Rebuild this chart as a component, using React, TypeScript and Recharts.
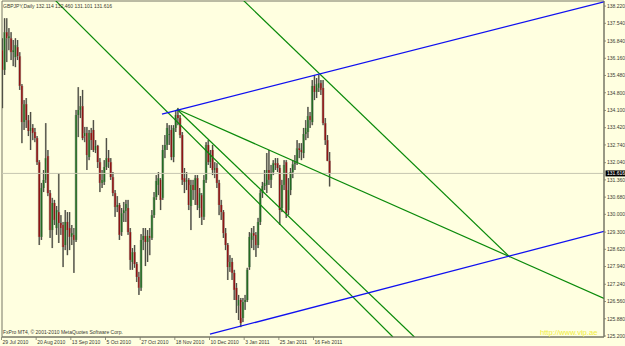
import { ComposedChart, Bar, XAxis, YAxis, ReferenceLine, ReferenceArea } from "recharts";

// GBPJPY daily candles (index 0 = 29 Jul 2010)
const OPEN = [
  136.48, 135.70, 137.19, 136.95, 136.95, 136.40, 136.20, 136.60, 136.24, 135.07,
  133.64, 134.35, 133.72, 133.29, 133.41, 133.25, 133.01, 132.06, 129.11, 131.04,
  131.36, 132.30, 130.84, 129.38, 130.45, 129.46, 130.09, 129.66, 129.58, 128.79,
  129.70, 129.46, 129.11, 129.19, 128.99, 133.92, 134.12, 134.27, 133.09, 133.21,
  132.26, 133.21, 133.33, 132.54, 132.70, 132.06, 131.24, 131.28, 131.87, 132.22,
  132.06, 131.47, 130.84, 130.29, 130.37, 129.30, 130.05, 130.13, 130.25, 129.30,
  128.12, 128.51, 128.04, 127.53, 127.10, 128.99, 129.15, 128.91, 129.15, 129.07,
  129.97, 130.68, 131.16, 131.36, 130.65, 132.54, 132.74, 133.13, 133.33, 132.26,
  133.41, 133.92, 133.80, 133.13, 131.43, 131.28, 131.36, 130.33, 131.16, 130.96,
  131.43, 130.25, 130.76, 129.90, 131.36, 132.74, 132.06, 132.54, 131.75, 131.83,
  131.24, 130.37, 130.09, 129.26, 128.79, 127.92, 128.12, 127.69, 127.10, 126.39,
  126.62, 125.91, 126.54, 126.62, 127.92, 128.99, 129.26, 129.19, 128.79, 129.70,
  130.84, 131.12, 131.16, 131.75, 131.36, 131.67, 132.02, 132.02, 131.83, 130.25,
  131.16, 132.06, 130.17, 130.96, 131.67, 131.98, 132.06, 132.61, 132.54, 132.42,
  133.17, 133.25, 133.88, 133.64, 135.07, 134.83, 134.99, 135.18, 134.99, 133.60,
  132.93, 132.114,
];
const HIGH = [
  136.95, 137.74, 137.74, 137.35, 137.19, 136.88, 136.95, 136.88, 136.40, 135.14,
  134.51, 134.59, 133.92, 134.04, 133.56, 133.41, 133.09, 132.14, 131.24, 131.75,
  133.60, 132.54, 130.96, 130.65, 130.57, 130.33, 131.63, 129.97, 129.70, 130.17,
  130.09, 130.09, 129.58, 129.46, 134.12, 135.02, 134.67, 134.91, 133.45, 133.45,
  133.33, 133.41, 133.72, 132.93, 132.74, 132.22, 131.75, 132.14, 133.01, 132.54,
  132.22, 131.67, 130.96, 130.72, 130.45, 130.25, 130.49, 130.57, 130.57, 129.46,
  128.67, 128.79, 128.12, 127.73, 129.22, 129.46, 129.46, 129.38, 129.46, 130.17,
  130.88, 131.55, 131.67, 131.43, 132.74, 133.13, 133.60, 133.52, 133.52, 133.52,
  134.12, 134.20, 133.92, 133.25, 131.83, 131.67, 131.43, 131.36, 131.36, 131.55,
  131.55, 131.04, 130.84, 131.55, 132.85, 132.93, 132.54, 132.74, 132.06, 132.02,
  131.36, 130.57, 130.17, 129.46, 128.87, 128.39, 128.28, 127.81, 127.29, 126.82,
  126.70, 126.70, 126.82, 127.89, 129.30, 129.46, 129.54, 129.30, 129.86, 130.96,
  131.28, 131.75, 132.42, 132.54, 131.95, 132.14, 132.22, 132.22, 131.95, 131.36,
  132.14, 132.14, 131.43, 131.83, 132.14, 132.34, 132.93, 132.81, 132.81, 133.41,
  133.72, 134.24, 134.04, 135.30, 135.50, 135.38, 135.50, 135.30, 135.30, 133.80,
  133.13, 132.46,
];
const LOW = [
  134.19, 135.50, 136.01, 136.48, 136.09, 135.85, 135.81, 136.09, 134.91, 132.81,
  133.33, 133.41, 133.09, 132.54, 132.93, 132.85, 131.95, 128.79, 128.99, 130.88,
  131.24, 130.72, 129.07, 128.67, 129.58, 129.19, 128.87, 129.19, 127.92, 128.59,
  128.39, 128.59, 128.79, 127.69, 128.91, 133.05, 133.80, 132.93, 132.85, 131.75,
  132.14, 132.54, 132.46, 132.42, 131.83, 130.88, 131.04, 131.16, 131.75, 131.83,
  131.36, 130.72, 129.90, 130.09, 128.99, 129.15, 129.70, 129.70, 129.19, 127.81,
  127.81, 127.89, 127.33, 126.82, 126.98, 128.59, 127.96, 128.12, 128.39, 128.99,
  129.86, 130.57, 130.76, 130.17, 130.57, 132.22, 132.54, 132.74, 132.14, 132.06,
  133.25, 133.52, 133.01, 131.16, 130.84, 130.96, 130.17, 129.38, 130.57, 130.37,
  130.17, 129.86, 129.58, 129.78, 131.24, 131.95, 131.83, 131.55, 131.43, 131.04,
  129.97, 129.78, 129.07, 128.59, 127.41, 127.73, 127.41, 126.62, 126.11, 125.83,
  125.55, 125.75, 126.23, 126.54, 127.81, 128.67, 128.59, 128.32, 128.67, 129.58,
  130.65, 130.96, 130.84, 131.16, 131.04, 131.55, 131.75, 131.67, 129.58, 130.09,
  130.96, 129.86, 129.97, 130.76, 131.43, 131.75, 131.95, 132.22, 132.14, 132.22,
  132.93, 133.01, 133.41, 133.52, 134.51, 134.59, 134.83, 134.71, 133.52, 132.74,
  132.10, 131.101,
];
const CLOSE = [
  135.70, 137.19, 136.95, 137.03, 136.40, 136.48, 136.68, 136.24, 135.07, 133.64,
  134.35, 133.72, 133.29, 133.41, 133.21, 133.01, 132.06, 129.11, 131.04, 131.36,
  132.22, 130.84, 129.38, 130.45, 129.78, 130.17, 129.66, 129.46, 128.71, 129.70,
  129.38, 129.11, 129.26, 128.99, 133.92, 134.12, 134.27, 133.01, 133.21, 132.34,
  133.21, 132.93, 132.54, 132.70, 132.06, 131.24, 131.36, 131.87, 132.22, 132.06,
  131.47, 130.84, 130.29, 130.37, 129.19, 130.05, 130.17, 130.41, 129.30, 128.20,
  128.51, 128.04, 127.53, 127.10, 128.99, 129.15, 128.91, 129.15, 129.07, 129.97,
  130.68, 131.32, 131.43, 130.57, 132.54, 132.74, 133.41, 133.17, 132.26, 133.41,
  133.92, 133.80, 133.13, 131.36, 131.28, 131.36, 130.37, 131.16, 130.96, 131.43,
  130.37, 130.84, 129.90, 131.36, 132.74, 132.06, 132.34, 131.75, 131.83, 131.24,
  130.37, 130.09, 129.26, 128.79, 127.92, 128.12, 127.69, 127.02, 126.62, 126.62,
  125.71, 126.54, 126.62, 127.81, 129.11, 129.26, 129.15, 128.79, 129.70, 130.84,
  131.12, 131.24, 131.75, 131.36, 131.63, 132.02, 131.95, 131.83, 130.17, 131.16,
  131.95, 130.05, 130.96, 131.67, 131.98, 132.06, 132.61, 132.54, 132.46, 133.17,
  133.41, 133.88, 133.72, 135.07, 134.83, 135.14, 135.18, 134.91, 133.60, 132.93,
  132.11, 131.616,
];

const DATE_TICKS = [0, 16, 32, 48, 64, 80, 96, 112, 128, 144];
const DATE_LABELS = [
  "29 Jul 2010", "20 Aug 2010", "13 Sep 2010", "5 Oct 2010", "27 Oct 2010",
  "18 Nov 2010", "10 Dec 2010", "3 Jan 2011", "25 Jan 2011", "16 Feb 2011",
];
const PRICE_TICKS = [
  138.22, 137.54, 136.84, 136.16, 135.48, 134.8, 134.1, 133.42, 132.74, 132.04,
  131.36, 130.68, 130.0, 129.3, 128.62, 127.94, 127.24, 126.56, 125.88, 125.2,
];
const LAST = 131.616;

// trendlines: [bar index, price] -> [bar index, price]
const BLUE_LINES = [
  [73.6, 133.96, 277.6, 138.39],
  [95.75, 125.27, 277.6, 129.33],
];
const GREEN_LINES = [
  [24.2, 138.46, 180.2, 125.16],
  [80.5, 134.15, 190.1, 125.16],
  [80.5, 134.15, 277.6, 126.68],
  [111, 138.46, 234.2, 128.31],
];

const X_DOMAIN = [-0.23, 277.6];
const Y_DOMAIN = [125.16, 138.42];

const data = OPEN.map((o, i) => ({
  i,
  range: [LOW[i], HIGH[i]],
  open: o,
  high: HIGH[i],
  low: LOW[i],
  close: CLOSE[i],
}));

const FONT = "'Liberation Sans', Arial, sans-serif";
const TXT = "#3a3a30";

function Candle(props: any) {
  const { x, y, width, height, payload } = props;
  if (x == null || !payload) return null;
  const { open, close, high, low } = payload;
  const top = Math.min(y, y + height);
  const h = Math.abs(height);
  const cx = x + width / 2;
  const span = high - low || 1;
  const yO = top + ((high - open) / span) * h;
  const yC = top + ((high - close) / span) * h;
  const up = close >= open;
  const bTop = Math.min(yO, yC);
  const bH = Math.max(Math.abs(yO - yC), 0.8);
  return (
    <g>
      <rect x={cx - 0.9} y={top} width={1.8} height={h} fill="#a9a996" />
      <line x1={cx} x2={cx} y1={top} y2={top + h} stroke="#3c3c34" strokeWidth={0.9} />
      <rect x={cx - 1.4} y={bTop} width={2.8} height={bH} fill="#b3b3a0" />
      <rect x={cx - 0.8} y={bTop} width={1.6} height={bH} fill={up ? "#226a22" : "#8e1414"} />
    </g>
  );
}

function DateTick(props: any) {
  const { x, y, payload } = props;
  const label = DATE_LABELS[DATE_TICKS.indexOf(payload.value)];
  return (
    <g>
      <line x1={x - 1} x2={x - 1} y1={y} y2={y + 3} stroke="#777766" strokeWidth={0.8} />
      <text x={x} y={y + 6.6} fontSize={5} fontFamily={FONT} fill={TXT}>
        {label}
      </text>
    </g>
  );
}

function PriceTick(props: any) {
  const { x, y, payload } = props;
  const v = payload.value;
  if (v === LAST) {
    return (
      <g>
        <rect x={x + 1.5} y={y - 3} width={19.5} height={6} fill="#000" />
        <text x={x + 3} y={y + 1.8} fontSize={5} fontFamily={FONT} fill="#fff">
          {v.toFixed(3)}
        </text>
      </g>
    );
  }
  return (
    <g>
      <line x1={x} x2={x + 2} y1={y} y2={y} stroke="#777766" strokeWidth={0.8} />
      <text x={x + 3} y={y + 1.8} fontSize={5} fontFamily={FONT} fill={TXT}>
        {v.toFixed(3)}
      </text>
    </g>
  );
}

export default function App() {
  return (
    <div style={{ position: "fixed", left: 0, top: 0, width: 625, height: 346, background: "#ffffe0", overflow: "hidden" }}>
      <ComposedChart width={625} height={346} data={data} margin={{ top: 1, right: 0, bottom: 0, left: 2 }}>
        <XAxis
          dataKey="i"
          type="number"
          domain={X_DOMAIN}
          allowDataOverflow
          ticks={DATE_TICKS}
          interval={0}
          tick={<DateTick />}
          tickLine={false}
          tickSize={0}
          tickMargin={0}
          height={9}
          axisLine={{ stroke: "#777766" }}
        />
        <YAxis
          orientation="right"
          type="number"
          domain={Y_DOMAIN}
          allowDataOverflow
          ticks={[...PRICE_TICKS, LAST]}
          interval={0}
          tick={<PriceTick />}
          tickLine={false}
          tickSize={0}
          tickMargin={0}
          width={21}
          axisLine={{ stroke: "#777766" }}
        />
        <ReferenceArea
          x1={X_DOMAIN[0]}
          x2={X_DOMAIN[1]}
          y1={Y_DOMAIN[0]}
          y2={Y_DOMAIN[1]}
          fill="none"
          stroke="#777766"
          strokeWidth={1}
        />
        <ReferenceLine y={LAST} stroke="#c6c6b0" strokeWidth={1} />
        <Bar dataKey="range" barSize={2} shape={<Candle />} isAnimationActive={false} />
        {GREEN_LINES.map((s, k) => (
          <ReferenceLine
            key={"g" + k}
            segment={[{ x: s[0], y: s[1] }, { x: s[2], y: s[3] }]}
            stroke="#0a8a0a"
            strokeWidth={1.2}
            ifOverflow="hidden"
          />
        ))}
        {BLUE_LINES.map((s, k) => (
          <ReferenceLine
            key={"b" + k}
            segment={[{ x: s[0], y: s[1] }, { x: s[2], y: s[3] }]}
            stroke="#1010f0"
            strokeWidth={1.3}
            ifOverflow="hidden"
          />
        ))}
      </ComposedChart>
      <svg width={625} height={346} style={{ position: "absolute", left: 0, top: 0, pointerEvents: "none" }}>
        <text x={3} y={8} fontSize={5} fontFamily={FONT} fill={TXT}>
          GBPJPY,Daily  132.114 132.460 131.101 131.616
        </text>
        <text x={3} y={333.5} fontSize={5} fontFamily={FONT} fill={TXT}>
          FxPro MT4, © 2001-2010 MetaQuotes Software Corp.
        </text>
        <text x={540} y={335} fontSize={7.6} fontFamily={FONT} fill="#f0ec3a">
          http://www.vip.ae
        </text>
      </svg>
    </div>
  );
}
